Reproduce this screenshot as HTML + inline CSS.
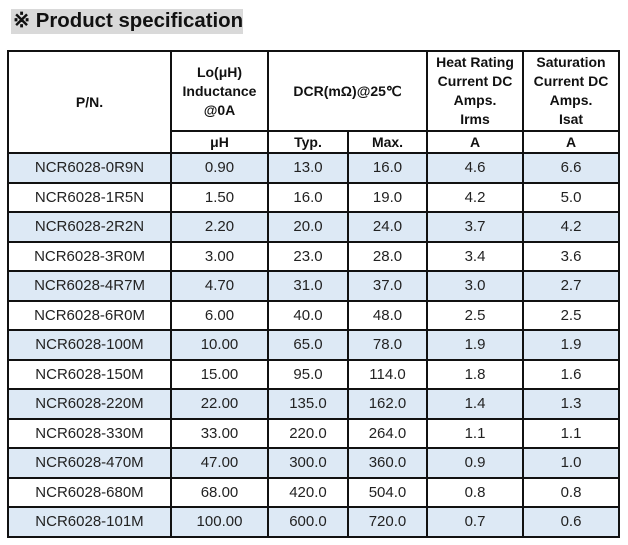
<!DOCTYPE html>
<html><head><meta charset="utf-8"><style>
body{margin:0;width:628px;height:545px;background:#fff;font-family:"Liberation Sans",Arial,sans-serif;position:relative;overflow:hidden}
#title{position:absolute;left:11px;top:9px;width:232px;height:25px;background:#d9d9d9;font-weight:bold;font-size:20.4px;line-height:25px;color:#111;padding-left:2px;box-sizing:border-box;white-space:nowrap}
table{position:absolute;left:7px;top:50px;border-collapse:collapse;table-layout:fixed;width:611px}
td{border:2px solid #111;text-align:center;font-size:15px;color:#222;padding:0}
.h{font-weight:bold;color:#111;line-height:19px;font-size:14px}
.u{font-weight:bold;height:22px}
.d td{height:27.5px}
.b td{background:#dde9f5}
</style></head><body>
<div id="title">※ Product specification</div>
<table>
<colgroup><col style="width:163px"><col style="width:97px"><col style="width:80px"><col style="width:79px"><col style="width:96px"><col style="width:96px"></colgroup>
<tr style="height:80px"><td class="h" rowspan="2">P/N.</td><td class="h">Lo(μH)<br>Inductance<br>@0A</td><td class="h" colspan="2">DCR(mΩ)@25℃</td><td class="h">Heat Rating<br>Current DC<br>Amps.<br>Irms</td><td class="h">Saturation<br>Current DC<br>Amps.<br>Isat</td></tr>
<tr class="u"><td class="h">μH</td><td class="h">Typ.</td><td class="h">Max.</td><td class="h">A</td><td class="h">A</td></tr>
<tbody id="body"></tbody>
</table>
<script>
const pns=["NCR6028-0R9N","NCR6028-1R5N","NCR6028-2R2N","NCR6028-3R0M","NCR6028-4R7M","NCR6028-6R0M","NCR6028-100M","NCR6028-150M","NCR6028-220M","NCR6028-330M","NCR6028-470M","NCR6028-680M","NCR6028-101M"];
const ind=["0.90","1.50","2.20","3.00","4.70","6.00","10.00","15.00","22.00","33.00","47.00","68.00","100.00"];
const dcrTyp=["13.0","16.0","20.0","23.0","31.0","40.0","65.0","95.0","135.0","220.0","300.0","420.0","600.0"];
const dcrMax=["16.0","19.0","24.0","28.0","37.0","48.0","78.0","114.0","162.0","264.0","360.0","504.0","720.0"];
const irms=["4.6","4.2","3.7","3.4","3.0","2.5","1.9","1.8","1.4","1.1","0.9","0.8","0.7"];
const isat=["6.6","5.0","4.2","3.6","2.7","2.5","1.9","1.6","1.3","1.1","1.0","0.8","0.6"];
const tb=document.getElementById('body');
pns.forEach((p,i)=>{
  const tr=document.createElement('tr');
  tr.className='d'+(i%2===0?' b':'');
  
  
  [p,ind[i],dcrTyp[i],dcrMax[i],irms[i],isat[i]].forEach(v=>{
    const td=document.createElement('td');
    td.textContent=v;
    
    
    tr.appendChild(td);
  });
  tb.appendChild(tr);
});
</script>
</body></html>
